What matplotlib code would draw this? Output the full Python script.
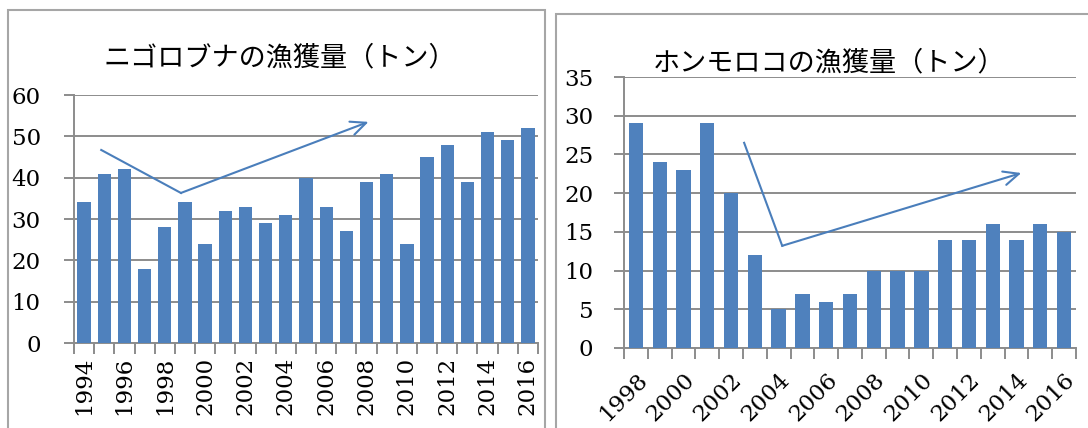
import matplotlib
matplotlib.use("Agg")
import matplotlib.pyplot as plt
from matplotlib.patches import Rectangle
import numpy as np

# ニゴロブナ catch (tons), 1994-2016
nigo_years = list(range(1994, 2017))
nigo_catch = [34, 41, 42, 18, 28, 34, 24, 32, 33, 29, 31, 40, 33, 27, 39, 41, 24, 45, 48, 39, 51, 49, 52]

# ホンモロコ catch (tons), 1998-2016
hon_years = list(range(1998, 2017))
hon_catch = [29, 24, 23, 29, 20, 12, 5, 7, 6, 7, 10, 10, 10, 14, 14, 16, 14, 16, 15]

# hand-drawn trend arrows (category index, value)
nigo_arrow_x = [0.85, 4.8, 14.1]
nigo_arrow_y = [46.7, 36.3, 53.5]
hon_arrow_x = [4.55, 6.15, 16.2]
hon_arrow_y = [26.5, 13.2, 22.6]

BAR = '#4F81BD'
LINE = '#4A7EBB'
GRID = '#8C8C8C'
NUM_FONT = 'DejaVu Serif'
JP_FONT = ['Noto Sans CJK JP', 'DejaVu Sans']

W, H = 1088, 428
fig = plt.figure(figsize=(W / 100, H / 100), dpi=100)
fig.patch.set_facecolor('white')


def px_axes(x0, x1, y_top, y_bot):
    return fig.add_axes([x0 / W, (H - y_bot) / H, (x1 - x0) / W, (y_bot - y_top) / H])


def draw_panel(ax, years, values, ymax, ystep, bar_w, arrow_x, arrow_y, rot, ypad):
    n = len(years)
    x = np.arange(n)
    ax.bar(x, values, width=bar_w, color=BAR, zorder=3)
    ax.set_xlim(-0.5, n - 0.5)
    ax.set_ylim(0, ymax)
    ax.set_yticks(np.arange(0, ymax + 1, ystep))
    ax.yaxis.grid(True, color=GRID, linewidth=1.4, zorder=0)
    ax.set_axisbelow(True)
    for s in ['top', 'right']:
        ax.spines[s].set_visible(False)
    for s in ['left', 'bottom']:
        ax.spines[s].set_color(GRID)
        ax.spines[s].set_linewidth(1.4)
    ax.tick_params(axis='y', length=7, width=1.4, color=GRID, pad=ypad,
                   labelsize=16.5)
    for lab in ax.get_yticklabels():
        lab.set_family(NUM_FONT)
    # tick marks at category boundaries, labels on every second year
    ax.set_xticks(np.arange(-0.5, n, 1.0))
    ax.set_xticklabels([])
    ax.tick_params(axis='x', which='major', length=8, width=1.4, color=GRID)
    ax.set_xticks(x[::2], minor=True)
    if rot == 90:
        ax.set_xticklabels([str(y) for y in years[::2]], minor=True,
                           rotation=90, ha='center', va='top',
                           family=NUM_FONT, fontsize=16.5)
        ax.tick_params(axis='x', which='minor', length=0, pad=10)
    else:
        ax.set_xticklabels([str(y) for y in years[::2]], minor=True,
                           rotation=45, ha='right', va='top',
                           rotation_mode='anchor',
                           family=NUM_FONT, fontsize=16.5)
        ax.tick_params(axis='x', which='minor', length=0, pad=15)
    # trend arrow
    ax.plot(arrow_x[:2], arrow_y[:2], color=LINE, linewidth=1.5, zorder=4)
    ax.annotate('', xy=(arrow_x[2], arrow_y[2]), xytext=(arrow_x[1], arrow_y[1]),
                arrowprops=dict(arrowstyle='->,head_length=1.1,head_width=0.5',
                                color=LINE, linewidth=1.5,
                                shrinkA=0, shrinkB=0), zorder=4)


# panel frames
fig.add_artist(Rectangle((8 / W, -0.05), (545 - 8) / W, (H - 10) / H + 0.05,
                         transform=fig.transFigure, fill=False,
                         edgecolor='#A6A6A6', linewidth=1.5))
fig.add_artist(Rectangle((556 / W, -0.05), 0.5, (H - 14) / H + 0.05,
                         transform=fig.transFigure, fill=False,
                         edgecolor='#A6A6A6', linewidth=1.5))

ax1 = px_axes(74, 538, 95, 343)
draw_panel(ax1, nigo_years, nigo_catch, 60, 10, 0.66, nigo_arrow_x, nigo_arrow_y, 90, 17)
fig.text(280 / W, (H - 58) / H, 'ニゴロブナの漁獲量（トン）', ha='center', va='center',
         family=JP_FONT, fontsize=19.5)

ax2 = px_axes(624, 1076, 77, 348)
draw_panel(ax2, hon_years, hon_catch, 35, 5, 0.6, hon_arrow_x, hon_arrow_y, 45, 15)
fig.text(829 / W, (H - 63) / H, 'ホンモロコの漁獲量（トン）', ha='center', va='center',
         family=JP_FONT, fontsize=19.5)

fig.savefig('out.png', dpi=100, facecolor='white')
